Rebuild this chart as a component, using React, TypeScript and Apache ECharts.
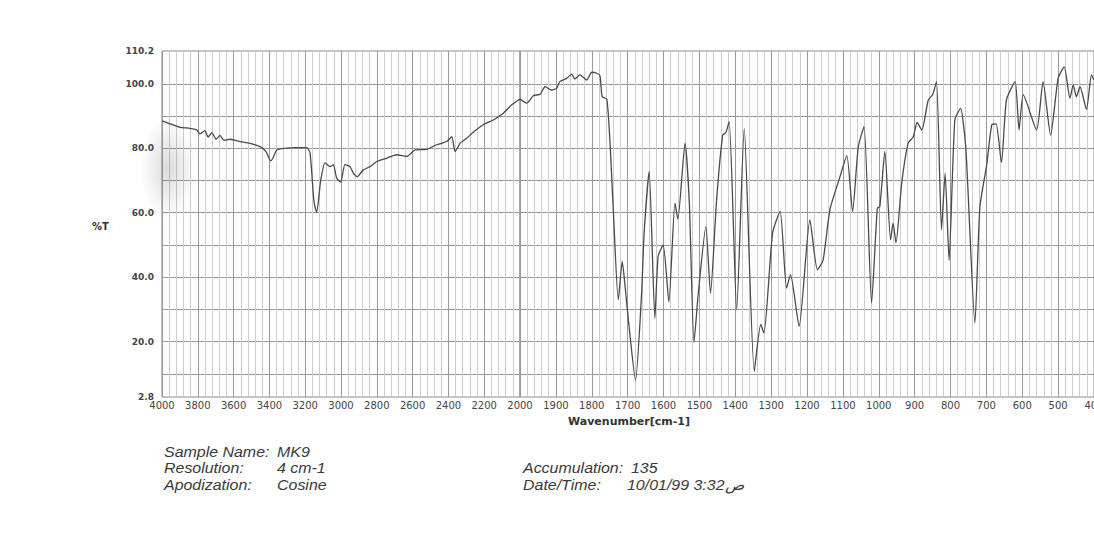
import React, { useEffect, useRef } from "react";
import * as echarts from "echarts";

// 4000-2000 cm-1 section (wavenumber, %T)
const LEFT_W = [4000, 3955, 3899, 3844, 3806, 3788, 3760, 3743, 3721, 3698, 3676, 3654, 3620, 3564, 3508, 3452, 3419, 3393, 3380, 3359, 3313, 3257, 3192, 3173, 3151, 3136, 3113, 3089, 3061, 3043, 3024, 3002, 2978, 2950, 2931, 2909, 2875, 2838, 2800, 2745, 2689, 2633, 2586, 2521, 2465, 2409, 2381, 2363, 2345, 2335, 2298, 2261, 2205, 2149, 2093, 2046, 2000];
const LEFT_T = [88.5, 87.6, 86.5, 86.2, 85.7, 84.5, 85.5, 83.5, 84.8, 82.8, 84.0, 82.5, 82.8, 82.1, 81.5, 80.5, 79.0, 76.1, 77.0, 79.5, 80.0, 80.2, 80.2, 78.6, 63.5, 60.1, 70.2, 75.5, 74.3, 74.9, 70.7, 69.5, 74.9, 74.3, 72.3, 71.2, 73.3, 74.3, 75.9, 76.9, 78.0, 77.5, 79.5, 79.7, 81.1, 82.1, 83.6, 79.0, 80.5, 81.6, 83.1, 85.0, 87.3, 88.8, 90.9, 93.5, 95.3];

// 2000-400 cm-1 section (wavenumber, %T)
const RIGHT_W = [2000, 1981, 1963, 1944, 1930, 1912, 1898, 1889, 1870, 1856, 1847, 1833, 1814, 1800, 1786, 1777, 1771, 1758, 1749, 1740, 1726, 1715, 1707, 1698, 1678, 1661, 1654, 1640, 1624, 1615, 1601, 1585, 1568, 1560, 1540, 1528, 1515, 1503, 1482, 1469, 1452, 1435, 1426, 1417, 1396, 1375, 1347, 1329, 1320, 1296, 1275, 1257, 1246, 1222, 1192, 1171, 1155, 1136, 1108, 1089, 1073, 1057, 1041, 1020, 1004, 997, 983, 967, 960, 952, 936, 918, 904, 893, 880, 862, 850, 839, 825, 815, 804, 788, 772, 757, 732, 718, 699, 685, 673, 658, 644, 620, 609, 597, 560, 542, 521, 500, 483, 467, 458, 449, 439, 421, 407, 400];
const RIGHT_T = [95.3, 94.0, 96.3, 96.8, 99.1, 98.1, 98.6, 100.7, 101.7, 103.0, 101.5, 102.8, 101.2, 103.6, 103.3, 102.5, 96.0, 95.2, 81.6, 60.9, 33.0, 44.9, 37.1, 26.8, 8.0, 35.0, 53.7, 72.8, 27.3, 46.4, 50.0, 32.3, 63.0, 58.0, 81.6, 63.0, 19.8, 35.0, 55.7, 35.0, 64.0, 84.1, 84.9, 88.3, 29.9, 86.2, 10.8, 25.3, 22.7, 53.7, 60.4, 36.6, 40.8, 24.7, 57.8, 42.3, 45.4, 61.0, 71.2, 77.7, 60.4, 80.5, 86.7, 32.0, 61.4, 61.9, 79.0, 51.6, 56.8, 50.6, 69.2, 81.6, 83.5, 88.0, 85.7, 95.0, 96.6, 100.7, 54.7, 72.3, 45.2, 88.8, 92.4, 79.5, 25.8, 61.9, 74.9, 87.3, 87.6, 75.6, 95.0, 100.7, 85.7, 96.6, 85.7, 100.7, 84.1, 101.7, 105.3, 95.5, 99.7, 96.0, 99.1, 92.1, 102.8, 101.2];

const Y_LABELS = [2.8, 20, 40, 60, 80, 100, 110.2];
const Y_GRID = [10, 20, 30, 40, 50, 60, 70, 80, 90, 100];

const INFO_LEFT = [
  ["Sample Name:", "MK9"],
  ["Resolution:", "4 cm-1"],
  ["Apodization:", "Cosine"],
];
const INFO_RIGHT = [
  ["Accumulation:", "135"],
  ["Date/Time:", "10/01/99 3:32ص"],
];

export default function App() {
  const ref = useRef<HTMLDivElement>(null);
  useEffect(() => {
    document.body.style.margin = "0";
    const chart = echarts.init(ref.current!, null, { renderer: "svg" });
    const gridLine = { show: true, lineStyle: { color: "#999999", width: 1 } };
    const minorLine = { show: true, lineStyle: { color: "#cdcdcd", width: 1 } };
    const xLabel = { color: "#444", fontSize: 10, fontFamily: "DejaVu Sans", margin: 3 };
    const yCommon = {
      type: "value",
      min: 2.8,
      max: 110.2,
      axisLine: { show: false },
      axisTick: { show: false, customValues: Y_GRID },
      splitLine: gridLine,
    };
    const infoText = (txt: string, x: number, y: number) => ({
      type: "text",
      x,
      y,
      scaleX: 1.1,
      style: {
        text: txt,
        fontFamily: "Liberation Sans",
        fontStyle: "italic",
        fontSize: 14.5,
        fill: "#3a3a3a",
        textVerticalAlign: "middle",
      },
    });
    const graphics: any[] = [
      {
        type: "ellipse",
        shape: { cx: 168, cy: 168, rx: 28, ry: 52 },
        silent: true,
        z: 100,
        style: {
          fill: new echarts.graphic.RadialGradient(0.5, 0.5, 0.5, [
            { offset: 0, color: "rgba(90,90,90,0.22)" },
            { offset: 1, color: "rgba(90,90,90,0)" },
          ]),
        },
      },
      {
        type: "text",
        x: 92,
        y: 226,
        style: { text: "%T", fontFamily: "DejaVu Sans", fontWeight: "bold", fontSize: 10, fill: "#333", textVerticalAlign: "middle" },
      },
      {
        type: "text",
        x: 629,
        y: 421,
        style: { text: "Wavenumber[cm-1]", fontFamily: "DejaVu Sans", fontWeight: "bold", fontSize: 11, fill: "#333", textAlign: "center", textVerticalAlign: "middle" },
      },
    ];
    const rowsY = [452, 468, 485];
    INFO_LEFT.forEach((r, i) => {
      graphics.push(infoText(r[0], 164, rowsY[i]));
      graphics.push(infoText(r[1], 277, rowsY[i]));
    });
    INFO_RIGHT.forEach((r, i) => {
      graphics.push(infoText(r[0], 523, rowsY[i + 1]));
      graphics.push(infoText(r[1], i === 0 ? 631 : 627, rowsY[i + 1]));
    });

    chart.setOption({
      animation: false,
      backgroundColor: "#ffffff",
      grid: [
        { left: 162, top: 51, width: 358, height: 346, show: true, borderColor: "#8a8a8a", borderWidth: 1, outerBoundsMode: "none", containLabel: false },
        { left: 520, top: 51, width: 574, height: 346, show: true, borderColor: "#8a8a8a", borderWidth: 1, outerBoundsMode: "none", containLabel: false },
      ],
      xAxis: [
        {
          gridIndex: 0,
          type: "value",
          min: 2000,
          max: 4000,
          interval: 200,
          inverse: true,
          axisLine: { show: false },
          axisTick: { show: false },
          minorTick: { show: false, splitNumber: 5 },
          splitLine: gridLine,
          minorSplitLine: minorLine,
          axisLabel: { ...xLabel, formatter: (v: number) => (v === 2000 ? "" : String(v)) },
        },
        {
          gridIndex: 1,
          type: "value",
          min: 400,
          max: 2000,
          interval: 100,
          inverse: true,
          axisLine: { show: false },
          axisTick: { show: false },
          minorTick: { show: false, splitNumber: 5 },
          splitLine: gridLine,
          minorSplitLine: minorLine,
          axisLabel: { ...xLabel, formatter: (v: number) => String(v) },
        },
      ],
      yAxis: [
        {
          ...yCommon,
          gridIndex: 0,
          axisLabel: {
            customValues: Y_LABELS,
            formatter: (v: number) => v.toFixed(1),
            color: "#444",
            fontSize: 9,
            fontWeight: "bold",
            fontFamily: "DejaVu Sans",
            margin: 8,
          },
        },
        { ...yCommon, gridIndex: 1, axisLabel: { show: false } },
      ],
      series: [
        {
          type: "line",
          xAxisIndex: 0,
          yAxisIndex: 0,
          data: LEFT_W.map((w, i) => [w, LEFT_T[i]]),
          showSymbol: false,
          smooth: 0.2,
          lineStyle: { color: "#4a4a4a", width: 1.3 },
        },
        {
          type: "line",
          xAxisIndex: 1,
          yAxisIndex: 1,
          data: RIGHT_W.map((w, i) => [w, RIGHT_T[i]]),
          showSymbol: false,
          smooth: 0.2,
          lineStyle: { color: "#4a4a4a", width: 1.3 },
        },
      ],
      graphic: graphics,
    });
    return () => chart.dispose();
  }, []);
  return <div ref={ref} style={{ width: 1094, height: 550 }} />;
}
